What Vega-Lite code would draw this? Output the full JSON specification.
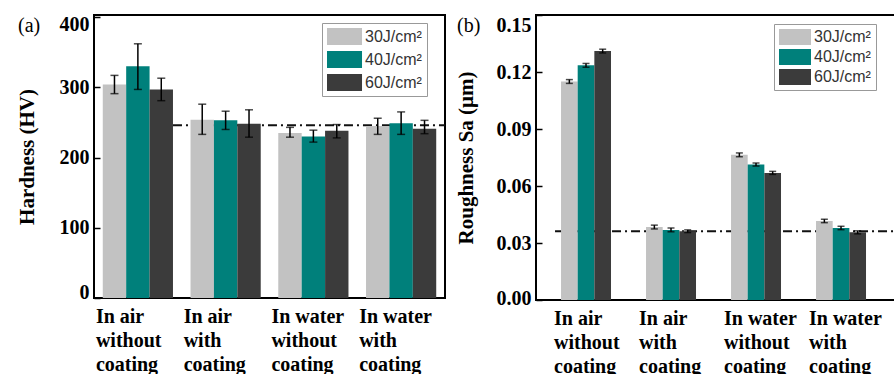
{
  "$schema": "https://vega.github.io/schema/vega-lite/v6.json",
  "padding": {"left": 15, "top": 13, "right": 0, "bottom": 0},
  "spacing": 7,
  "config": {
    "font": "Liberation Serif",
    "view": {"stroke": "black", "strokeWidth": 2},
    "axis": {
      "labelColor": "black",
      "labelFont": "Liberation Serif",
      "labelFontWeight": "bold",
      "labelFontSize": 20,
      "titleColor": "black",
      "titleFont": "Liberation Serif",
      "titleFontWeight": "bold",
      "titleFontSize": 21,
      "tickColor": "black",
      "tickWidth": 1.5,
      "domain": false,
      "grid": false
    },
    "axisX": {
      "ticks": false,
      "labelAngle": 0,
      "labelLineHeight": 24,
      "labelPadding": 8,
      "labelBaseline": "top",
      "labelAlign": "left",
      "labelOverlap": false,
      "labelBound": false,
      "labelLimit": 0,
      "labelExpr": "split(replace(replace(datum.value, ' with', '|with'), ' coating', '|coating'), '|')"
    },
    "legend": {
      "title": null,
      "orient": "none",
      "labelFont": "Liberation Sans",
      "labelFontSize": 16,
      "labelColor": "#333333",
      "strokeColor": "#999999",
      "fillColor": "white",
      "padding": 5,
      "symbolStrokeWidth": 0,
      "symbolOpacity": 1
    }
  },
  "datasets": {
    "hardness": [
      {"condition": "In air without coating", "fluence": "30J/cm²", "hv": 304, "lo": 291, "hi": 317},
      {"condition": "In air without coating", "fluence": "40J/cm²", "hv": 330, "lo": 297, "hi": 362},
      {"condition": "In air without coating", "fluence": "60J/cm²", "hv": 297, "lo": 281, "hi": 313},
      {"condition": "In air with coating", "fluence": "30J/cm²", "hv": 254, "lo": 233, "hi": 276},
      {"condition": "In air with coating", "fluence": "40J/cm²", "hv": 253, "lo": 240, "hi": 266},
      {"condition": "In air with coating", "fluence": "60J/cm²", "hv": 248, "lo": 229, "hi": 268},
      {"condition": "In water without coating", "fluence": "30J/cm²", "hv": 235, "lo": 229, "hi": 243},
      {"condition": "In water without coating", "fluence": "40J/cm²", "hv": 230, "lo": 222, "hi": 239},
      {"condition": "In water without coating", "fluence": "60J/cm²", "hv": 238, "lo": 228, "hi": 247},
      {"condition": "In water with coating", "fluence": "30J/cm²", "hv": 245, "lo": 233, "hi": 256},
      {"condition": "In water with coating", "fluence": "40J/cm²", "hv": 249, "lo": 233, "hi": 265},
      {"condition": "In water with coating", "fluence": "60J/cm²", "hv": 241, "lo": 234, "hi": 253}
    ],
    "roughness": [
      {"condition": "In air without coating", "fluence": "30J/cm²", "sa": 0.115, "lo": 0.114, "hi": 0.116},
      {"condition": "In air without coating", "fluence": "40J/cm²", "sa": 0.1235, "lo": 0.1225, "hi": 0.1245},
      {"condition": "In air without coating", "fluence": "60J/cm²", "sa": 0.131, "lo": 0.130, "hi": 0.132},
      {"condition": "In air with coating", "fluence": "30J/cm²", "sa": 0.0384, "lo": 0.0374, "hi": 0.0394},
      {"condition": "In air with coating", "fluence": "40J/cm²", "sa": 0.0369, "lo": 0.0359, "hi": 0.0379},
      {"condition": "In air with coating", "fluence": "60J/cm²", "sa": 0.0362, "lo": 0.0355, "hi": 0.0369},
      {"condition": "In water without coating", "fluence": "30J/cm²", "sa": 0.0764, "lo": 0.0754, "hi": 0.0774},
      {"condition": "In water without coating", "fluence": "40J/cm²", "sa": 0.0713, "lo": 0.0705, "hi": 0.0721},
      {"condition": "In water without coating", "fluence": "60J/cm²", "sa": 0.0669, "lo": 0.0661, "hi": 0.0677},
      {"condition": "In water with coating", "fluence": "30J/cm²", "sa": 0.0416, "lo": 0.0407, "hi": 0.0425},
      {"condition": "In water with coating", "fluence": "40J/cm²", "sa": 0.0379, "lo": 0.0370, "hi": 0.0388},
      {"condition": "In water with coating", "fluence": "60J/cm²", "sa": 0.0356, "lo": 0.0348, "hi": 0.0364}
    ],
    "hardnessRef": [{"level": 246}],
    "roughnessRef": [{"level": 0.0362}]
  },
  "hconcat": [
    {
      "width": 351,
      "height": 283,
      "title": {"text": "(a)", "anchor": "start", "frame": "group", "dx": -76, "dy": 26, "font": "Liberation Serif", "fontSize": 20, "fontWeight": "normal", "color": "black"},
      "layer": [
        {
          "data": {"name": "hardnessRef"},
          "mark": {"type": "rule", "color": "#111111", "strokeWidth": 2, "strokeDash": [9, 4, 2, 4]},
          "encoding": {
            "x": {"datum": "In air without coating", "bandPosition": 1},
            "x2": {"value": "width"},
            "y": {"field": "level", "type": "quantitative"}
          }
        },
        {
          "data": {"name": "hardness"},
          "mark": {"type": "bar"},
          "encoding": {
            "x": {
              "field": "condition", "type": "nominal", "title": null,
              "scale": {"domain": ["In air without coating", "In air with coating", "In water without coating", "In water with coating"], "paddingInner": 0.2, "paddingOuter": 0.1},
              "axis": {"labelOffset": -42}
            },
            "xOffset": {"field": "fluence", "type": "nominal", "scale": {"paddingInner": 0, "paddingOuter": 0}},
            "y": {
              "field": "hv", "type": "quantitative",
              "scale": {"domain": [0, 403], "nice": false},
              "axis": {
                "title": "Hardness (HV)",
                "titlePadding": 22,
                "values": [0, 50, 100, 150, 200, 250, 300, 350, 400],
                "labelExpr": "datum.value % 100 === 0 ? datum.label : ''",
                "tickSize": {"condition": {"test": "datum.value % 100 === 0", "value": -6}, "value": -4},
                "labelPadding": 11,
                "labelOffset": {"condition": [{"test": "datum.value === 400", "value": 7}, {"test": "datum.value === 0", "value": -6}], "value": 0}
              }
            },
            "color": {
              "field": "fluence", "type": "nominal",
              "scale": {"domain": ["30J/cm²", "40J/cm²", "60J/cm²"], "range": ["#c2c2c2", "#00807b", "#3b3b3b"]},
              "legend": {"legendX": 228, "legendY": 8, "symbolType": "M-1,-1H3.12V1H-1Z", "symbolSize": 289, "labelOffset": 21, "rowPadding": 6}
            }
          }
        },
        {
          "data": {"name": "hardness"},
          "mark": {"type": "rule", "color": "black", "strokeWidth": 1.5},
          "encoding": {
            "x": {"field": "condition", "type": "nominal"},
            "xOffset": {"field": "fluence", "type": "nominal"},
            "y": {"field": "lo", "type": "quantitative"},
            "y2": {"field": "hi"}
          }
        },
        {
          "data": {"name": "hardness"},
          "mark": {"type": "tick", "color": "black", "size": 8, "thickness": 1.5},
          "encoding": {
            "x": {"field": "condition", "type": "nominal"},
            "xOffset": {"field": "fluence", "type": "nominal"},
            "y": {"field": "lo", "type": "quantitative"}
          }
        },
        {
          "data": {"name": "hardness"},
          "mark": {"type": "tick", "color": "black", "size": 8, "thickness": 1.5},
          "encoding": {
            "x": {"field": "condition", "type": "nominal"},
            "xOffset": {"field": "fluence", "type": "nominal"},
            "y": {"field": "hi", "type": "quantitative"}
          }
        }
      ]
    },
    {
      "width": 365,
      "height": 285,
      "title": {"text": "(b)", "anchor": "start", "frame": "group", "dx": -79, "dy": 26, "font": "Liberation Serif", "fontSize": 20, "fontWeight": "normal", "color": "black"},
      "layer": [
        {
          "data": {"name": "roughnessRef"},
          "mark": {"type": "rule", "color": "#111111", "strokeWidth": 2, "strokeDash": [9, 4, 2, 4]},
          "encoding": {
            "x": {"datum": "In air without coating", "bandPosition": -0.12},
            "x2": {"value": "width"},
            "y": {"field": "level", "type": "quantitative"}
          }
        },
        {
          "data": {"name": "roughness"},
          "mark": {"type": "bar"},
          "encoding": {
            "x": {
              "field": "condition", "type": "nominal", "title": null,
              "scale": {"domain": ["In air without coating", "In air with coating", "In water without coating", "In water with coating"], "paddingInner": 0.412, "paddingOuter": 0.353, "align": 0.417},
              "axis": {"labelOffset": -32}
            },
            "xOffset": {"field": "fluence", "type": "nominal", "scale": {"paddingInner": 0, "paddingOuter": 0}},
            "y": {
              "field": "sa", "type": "quantitative",
              "scale": {"domain": [0, 0.15], "nice": false},
              "axis": {
                "title": "Roughness Sa (μm)",
                "titlePadding": 20,
                "values": [0, 0.015, 0.03, 0.045, 0.06, 0.075, 0.09, 0.105, 0.12, 0.135, 0.15],
                "format": ".2f",
                "labelExpr": "round(datum.value * 1000) % 30 === 0 ? datum.label : ''",
                "tickSize": {"condition": {"test": "round(datum.value * 1000) % 30 === 0", "value": -6}, "value": -4},
                "labelPadding": 11,
                "labelOffset": {"condition": [{"test": "datum.value === 0.15", "value": 10}, {"test": "datum.value === 0", "value": -2}], "value": 0}
              }
            },
            "color": {
              "field": "fluence", "type": "nominal",
              "scale": {"domain": ["30J/cm²", "40J/cm²", "60J/cm²"], "range": ["#c2c2c2", "#00807b", "#3b3b3b"]},
              "legend": {"legendX": 238, "legendY": 9, "symbolType": "M-1,-1H3V1H-1Z", "symbolSize": 256, "labelOffset": 19, "rowPadding": 4}
            }
          }
        },
        {
          "data": {"name": "roughness"},
          "mark": {"type": "rule", "color": "black", "strokeWidth": 1.5},
          "encoding": {
            "x": {"field": "condition", "type": "nominal"},
            "xOffset": {"field": "fluence", "type": "nominal"},
            "y": {"field": "lo", "type": "quantitative"},
            "y2": {"field": "hi"}
          }
        },
        {
          "data": {"name": "roughness"},
          "mark": {"type": "tick", "color": "black", "size": 7, "thickness": 1.5},
          "encoding": {
            "x": {"field": "condition", "type": "nominal"},
            "xOffset": {"field": "fluence", "type": "nominal"},
            "y": {"field": "lo", "type": "quantitative"}
          }
        },
        {
          "data": {"name": "roughness"},
          "mark": {"type": "tick", "color": "black", "size": 7, "thickness": 1.5},
          "encoding": {
            "x": {"field": "condition", "type": "nominal"},
            "xOffset": {"field": "fluence", "type": "nominal"},
            "y": {"field": "hi", "type": "quantitative"}
          }
        }
      ]
    }
  ],
  "resolve": {
    "scale": {"color": "independent", "xOffset": "independent"},
    "legend": {"color": "independent"}
  }
}
